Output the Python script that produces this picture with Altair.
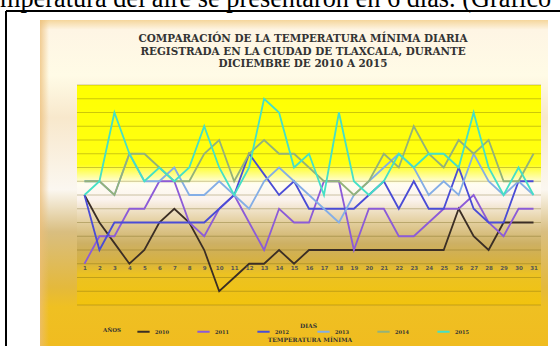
import altair as alt
import pandas as pd

# Daily minimum temperature (°C), Tlaxcala, December of each year
days = list(range(1, 32))
years = ["2010", "2011", "2012", "2013", "2014", "2015"]
t2010 = [5, 3, 1.5, 0, 1, 3, 4, 3, 1, -2, -1, 0, 0, 1, 0, 1, 1, 1, 1, 1, 1, 1, 1, 1, 1, 4, 2, 1, 3, 3, 3]
t2011 = [0, 2, 2, 4, 4, 6, 6, 3, 2, 4, 5, 3, 1, 4, 3, 3, 6, 6, 1, 4, 4, 2, 2, 3, 4, 4, 5, 3, 2, 4, 4]
t2012 = [5, 1, 3, 3, 3, 3, 3, 3, 3, 4, 5, 8, 6.5, 5, 6, 4, 4, 4, 4, 5, 6, 4, 6, 4, 4, 7, 4, 3, 3, 6, 6]
t2013 = [6, 6, 5, 8, 6, 6, 7, 5, 5, 6, 5, 4, 6, 7, 6, 5, 4, 3, 5, 6, 7, 8, 7, 5, 6, 5, 8, 6, 5, 6, 5]
t2014 = [6, 6, 5, 8, 8, 7, 6, 6, 8, 9, 6, 8, 9, 8, 8, 7, 6, 6, 5, 6, 8, 7, 10, 8, 7, 9, 8, 9, 6, 6, 8]
t2015 = [5, 6, 11, 8, 6, 7, 6, 7, 10, 7, 5, 7, 12, 11, 7, 8, 5, 11, 6, 5, 6, 8, 7, 8, 8, 7, 11, 7, 5, 7, 5]
series = [t2010, t2011, t2012, t2013, t2014, t2015]
colors = ["#3b2e25", "#8c5bd8", "#4a4cd6", "#84aee6", "#93b27a", "#45e0c6"]
y_ticks = list(range(-3, 14))

title_lines = [
    "COMPARACIÓN DE LA TEMPERATURA MÍNIMA DIARIA",
    "REGISTRADA  EN LA CIUDAD DE TLAXCALA,  DURANTE",
    "DICIEMBRE  DE 2010 A 2015",
]
doc_line = "mperatura del aire se presentaron en 6 días. (Gráfico"

W, H = 464, 220

rows = []
for yr, vals in zip(years, series):
    for d, v in zip(days, vals):
        rows.append({"dia": d, "temp": v, "anio": yr})
df = pd.DataFrame(rows)
one = pd.DataFrame({"k": [0]})
grid_df = pd.DataFrame({"v": y_ticks})

x_scale = alt.Scale(domain=[0.5, 31.5], nice=False, zero=False)
y_scale = alt.Scale(domain=[-3, 13], nice=False, zero=False)


def grad(stops, horizontal=False):
    return alt.LinearGradient(
        gradient="linear",
        stops=[alt.GradientStop(color=c, offset=o) for o, c in stops],
        x1=0, y1=0, x2=1 if horizontal else 0, y2=0 if horizontal else 1,
    )


base = alt.Chart(one)

# framed picture behind the plot
frame = base.mark_rect(fill=grad([
    (0.0, "#f5d69c"), (0.03, "#fef5e4"), (0.17, "#fffbe6"), (0.3, "#f8e8cc"),
    (0.52, "#fbf7f0"), (0.65, "#d9be80"), (0.82, "#e4b93c"), (0.88, "#efc022"),
    (1.0, "#f0bc20"),
])).encode(x=alt.value(-37), x2=alt.value(471), y=alt.value(-65), y2=alt.value(261))

frame_edge = base.mark_rect(fill=grad([
    (0.0, "rgba(236,190,120,0.75)"), (1.0, "rgba(236,190,120,0)"),
], horizontal=True)).encode(x=alt.value(-37), x2=alt.value(-28), y=alt.value(-65), y2=alt.value(261))

plot_bg = base.mark_rect(fill=grad([
    (0.0, "#ffff00"), (0.36, "#ffff14"), (0.45, "#fffdf2"), (0.52, "#fbf3ee"),
    (0.62, "#e4d0a0"), (0.72, "#cdb064"), (0.80, "#d6b142"), (0.86, "#ecc222"),
    (1.0, "#f2c30e"),
])).encode(x=alt.value(0), x2=alt.value(W), y=alt.value(0), y2=alt.value(H))

gridlines = alt.Chart(grid_df).mark_rule(color="#6e5e10", opacity=0.35, strokeWidth=1).encode(
    y=alt.Y("v:Q", scale=y_scale, axis=None)
)

lines = alt.Chart(df).mark_line(strokeWidth=1.8).encode(
    x=alt.X("dia:Q", scale=x_scale, axis=alt.Axis(
        values=days, orient="bottom", offset=-41.25, domain=False, ticks=False, grid=False,
        labelFontSize=5.5, labelColor="#555", labelFont="DejaVu Sans", labelFontWeight="bold",
        labelPadding=2, labelOverlap=False, labelFlush=False, zindex=1,
        title="DIAS", titleFont="DejaVu Serif", titleFontSize=6, titleFontWeight="bold",
        titleColor="#333", titleX=231, titleY=62, titleBaseline="middle", titleAlign="center",
    )),
    y=alt.Y("temp:Q", scale=y_scale, axis=alt.Axis(
        values=y_ticks, domain=False, ticks=False, grid=False,
        labelFontSize=5.5, labelColor="#555", labelFont="DejaVu Sans", labelFontWeight="bold",
        labelPadding=6, labelOverlap=False, zindex=1,
        title="°C", titleAngle=0, titleX=-16, titleY=110, titleAlign="right",
        titleBaseline="middle", titleFontSize=6, titleColor="#444", titleFont="DejaVu Sans",
    )),
    color=alt.Color("anio:N", scale=alt.Scale(domain=years, range=colors), legend=alt.Legend(
        orient="none", legendX=26, legendY=239, direction="horizontal",
        title="AÑOS", titleOrient="left", titleFont="DejaVu Serif", titleFontSize=5.5,
        titleFontWeight="bold", titleColor="#333", titlePadding=14,
        labelFont="DejaVu Serif", labelFontSize=5, labelColor="#333", labelFontWeight="bold",
        symbolType="stroke", symbolStrokeWidth=2, symbolSize=150, columnPadding=24,
    )),
)

title_text = base.mark_text(
    text=title_lines, font="DejaVu Serif", fontSize=10.4, fontWeight="bold",
    color="#333", lineHeight=12.7, align="center", baseline="middle",
).encode(x=alt.value(226), y=alt.value(-46))

axis_caption = base.mark_text(
    text="TEMPERATURA MÍNIMA", font="DejaVu Serif", fontSize=6, fontWeight="bold",
    color="#333", align="center", baseline="middle",
).encode(x=alt.value(233), y=alt.value(255))

doc_text = base.mark_text(
    text=doc_line, font="Liberation Serif", fontSize=26.3, color="#000",
    align="left", baseline="alphabetic",
).encode(x=alt.value(-77), y=alt.value(-78))

box_top = base.mark_rule(color="#000", strokeWidth=2).encode(
    x=alt.value(-71), x2=alt.value(483), y=alt.value(-74)
)
box_left = base.mark_rule(color="#000", strokeWidth=2).encode(
    x=alt.value(-71), y=alt.value(-74), y2=alt.value(261)
)

chart = alt.layer(
    frame, frame_edge, plot_bg, gridlines, lines, title_text, axis_caption,
    doc_text, box_top, box_left,
).properties(
    width=W, height=H,
    padding={"left": 77, "top": 85, "right": 19, "bottom": 41},
    autosize=alt.AutoSizeParams(type="none"),
    background="white",
).configure_view(stroke=None)

chart.save("out.html", embed_options={"renderer": "svg", "actions": False})
